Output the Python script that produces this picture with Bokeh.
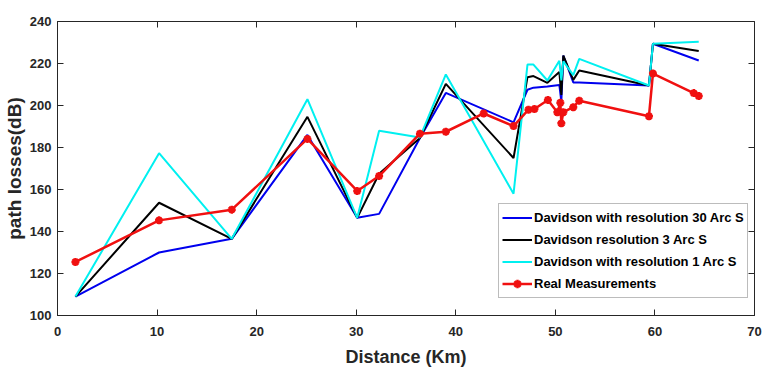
from bokeh.plotting import figure
from bokeh.models import Range1d, LinearAxis, FixedTicker, CustomJSTickFormatter
from bokeh.embed import file_html
from bokeh.resources import INLINE

# ---- data ----
model_x = [1.8, 10.2, 17.5, 25.1, 30.1, 32.3, 36.4, 39.0, 45.8, 47.2, 47.8, 49.2,
           50.4, 50.6, 50.8, 51.8, 52.4, 59.4, 59.8, 64.4]
res30 = [109.0, 130.0, 136.5, 186.0, 146.5, 148.4, 184.5, 206.0, 192.0, 207.5, 208.5, 209.0,
         209.8, 202.0, 223.8, 211.0, 211.0, 209.5, 229.4, 221.4]
res3 = [109.0, 153.7, 136.5, 194.6, 146.5, 167.5, 184.5, 210.3, 175.0, 213.5, 214.0, 210.8,
        215.9, 205.0, 223.8, 212.2, 216.7, 209.5, 229.4, 225.9]
res1 = [109.0, 177.3, 136.5, 203.0, 146.5, 188.0, 184.8, 214.8, 158.0, 219.5, 219.5, 211.9,
        221.3, 212.0, 221.0, 214.5, 222.2, 209.5, 229.4, 230.3]

real_x = [1.8, 10.2, 17.5, 25.1, 30.1, 32.3, 36.4, 39.0, 42.8, 45.8, 47.3, 47.9, 49.25,
          50.2, 50.5, 50.6, 50.8, 51.8, 52.4, 59.4, 59.8, 63.9, 64.4]
real_y = [125.5, 145.3, 150.4, 184.1, 159.3, 166.4, 186.6, 187.5, 196.2, 190.2, 198.0, 198.3, 202.6,
          196.8, 201.3, 191.5, 196.8, 199.2, 202.3, 194.9, 215.2, 205.9, 204.5]

x_ticks = [0, 10, 20, 30, 40, 50, 60, 70]
y_ticks = [100, 120, 140, 160, 180, 200, 220, 240]

FONT = "Liberation Sans"
TXT = "#262626"

p = figure(width=762, height=372, output_backend="svg", toolbar_location=None,
           x_range=Range1d(0, 70), y_range=Range1d(100, 240),
           min_border_left=52, min_border_right=8, min_border_top=21, min_border_bottom=57)
p.background_fill_color = "white"
p.border_fill_color = "white"
p.outline_line_color = TXT
p.outline_line_width = 1
p.xgrid.visible = False
p.ygrid.visible = False

p.line(model_x, res30, color="#0000ee", line_width=2, legend_label="Davidson with resolution 30 Arc S")
p.line(model_x, res3, color="black", line_width=2, legend_label="Davidson resolution 3 Arc S")
p.line(model_x, res1, color="#00f0f0", line_width=2, legend_label="Davidson with resolution 1 Arc S")
p.line(real_x, real_y, color="#f01010", line_width=2.5, legend_label="Real Measurements")
p.scatter(real_x, real_y, marker="asterisk", size=8, line_color="#f01010", line_width=2.5,
          legend_label="Real Measurements")

def style_axis(ax, ticks, labels=True):
    ax.ticker = FixedTicker(ticks=ticks)
    ax.major_tick_in = 6
    ax.major_tick_out = 0
    ax.minor_tick_line_color = None
    ax.major_tick_line_color = TXT
    ax.axis_line_color = TXT
    if labels:
        ax.major_label_text_font = FONT
        ax.major_label_text_font_size = "13px"
        ax.major_label_text_font_style = "bold"
        ax.major_label_text_color = TXT
    else:
        ax.formatter = CustomJSTickFormatter(code="return '';")
        ax.major_label_standoff = 0
        ax.axis_line_color = None

xa = p.xaxis[0]
style_axis(xa, x_ticks)
xa.major_label_standoff = 11
xa.axis_label = "Distance (Km)"
xa.axis_label_text_font = FONT
xa.axis_label_text_font_size = "18px"
xa.axis_label_text_font_style = "bold"
xa.axis_label_text_color = TXT
xa.axis_label_standoff = 8

ya = p.yaxis[0]
style_axis(ya, y_ticks)
ya.major_label_standoff = 6
ya.axis_label = "path losses(dB)"
ya.axis_label_text_font = FONT
ya.axis_label_text_font_size = "19px"
ya.axis_label_text_font_style = "bold"
ya.axis_label_text_color = TXT
ya.axis_label_standoff = 2

top = LinearAxis()
style_axis(top, x_ticks, labels=False)
p.add_layout(top, "above")
right = LinearAxis()
style_axis(right, y_ticks, labels=False)
p.add_layout(right, "right")

lg = p.legend[0]
lg.location = (441, 17)
lg.label_text_font = FONT
lg.label_text_font_size = "13px"
lg.label_text_font_style = "bold"
lg.label_text_color = "black"
lg.label_height = 21
lg.glyph_height = 21
lg.glyph_width = 30
lg.label_standoff = 2
lg.spacing = 1
lg.padding = 3
lg.margin = 0
lg.border_line_color = "#7a7a7a"
lg.border_line_width = 1
lg.background_fill_color = "white"
lg.background_fill_alpha = 1

open("out.html", "w").write(file_html(p, INLINE))
